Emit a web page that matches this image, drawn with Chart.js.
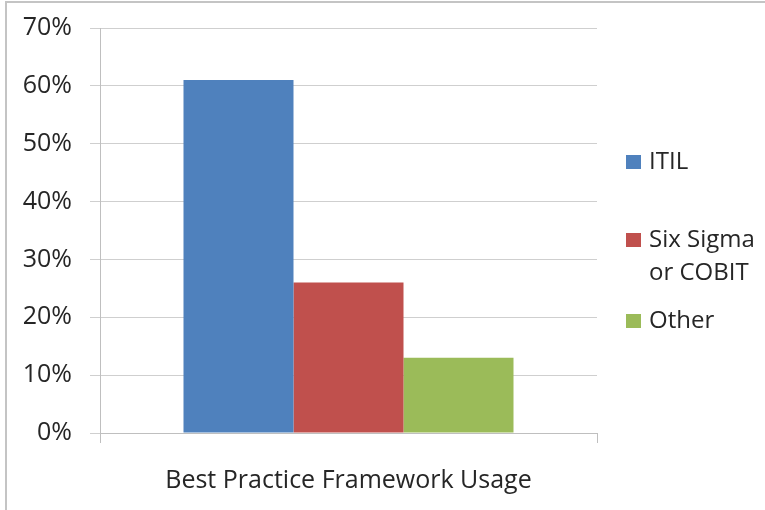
<!DOCTYPE html>
<html>
<head>
<meta charset="utf-8">
<script src="https://cdn.jsdelivr.net/npm/chart.js@4/dist/chart.umd.min.js"></script>
<style>
  html, body { margin: 0; padding: 0; background: #fff; }
  #wrap { position: relative; width: 765px; height: 510px; }
  #frame { position: absolute; left: 5px; top: 1px; width: 760px; height: 509px;
           border-left: 2px solid #c4c4c4; border-top: 2px solid #c4c4c4; pointer-events: none; box-sizing: border-box; }
  canvas { position: absolute; left: 0; top: 0; }
</style>
</head>
<body>
<div id="wrap">
  <canvas id="c" width="765" height="510"></canvas>
  <div id="frame"></div>
</div>
<script>
const categories = ['Best Practice Framework Usage'];
const seriesNames = [['ITIL'], ['Six Sigma', 'or COBIT'], ['Other']];
const itilValues = [61];
const sixSigmaValues = [26];
const otherValues = [13];
const yTicks = [0, 10, 20, 30, 40, 50, 60, 70];
const colors = ['#4F81BD', '#C0504D', '#9BBB59'];

const FONT = "'Open Sans', 'Liberation Sans', sans-serif";
const TEXT = '#262626';

const legendPlugin = {
  id: 'customLegend',
  afterDraw(chart) {
    const ctx = chart.ctx;
    const x0 = chart.chartArea.right + 29;
    const itemY = [162, 240, 321];
    ctx.save();
    ctx.font = '24px ' + FONT;
    ctx.fillStyle = TEXT;
    ctx.textBaseline = 'middle';
    chart.data.datasets.forEach((ds, i) => {
      const y = itemY[i];
      ctx.fillStyle = ds.backgroundColor;
      ctx.fillRect(x0, y - 7, 15, 14);
      ctx.fillStyle = TEXT;
      const lines = Array.isArray(ds.label) ? ds.label : [ds.label];
      lines.forEach((t, j) => ctx.fillText(t, x0 + 23, y + j * 33));
    });
    ctx.restore();
  }
};

new Chart(document.getElementById('c'), {
  type: 'bar',
  data: {
    labels: categories,
    datasets: [
      { label: seriesNames[0], data: itilValues, backgroundColor: colors[0] },
      { label: seriesNames[1], data: sixSigmaValues, backgroundColor: colors[1] },
      { label: seriesNames[2], data: otherValues, backgroundColor: colors[2] }
    ]
  },
  options: {
    responsive: false,
    animation: false,
    devicePixelRatio: 1,
    layout: { padding: { left: 0, right: 168, top: 28, bottom: 0 } },
    datasets: { bar: { categoryPercentage: 0.664, barPercentage: 1, borderWidth: 0 } },
    plugins: { legend: { display: false }, tooltip: { enabled: false } },
    scales: {
      x: {
        afterFit(s) { s.height = 77; s.paddingLeft = 0; s.paddingRight = 0; },
        grid: { display: true, drawOnChartArea: false, drawTicks: true, tickLength: 10, color: '#bfbfbf', offset: true },
        border: { display: true, color: '#bfbfbf', width: 1 },
        ticks: { color: TEXT, font: { family: FONT, size: 25 }, padding: 23 }
      },
      y: {
        min: 0, max: 70,
        afterFit(s) { s.width = 100; s.paddingTop = 0; s.paddingBottom = 0; },
        afterBuildTicks(s) { s.ticks = yTicks.map(v => ({ value: v })); },
        grid: { color: '#cfcfcf', tickLength: 10, drawTicks: true },
        border: { display: true, color: '#bfbfbf', width: 1 },
        ticks: { color: TEXT, font: { family: FONT, size: 25 }, padding: 18, callback: v => v + '%' }
      }
    }
  },
  plugins: [legendPlugin]
});
</script>
</body>
</html>
